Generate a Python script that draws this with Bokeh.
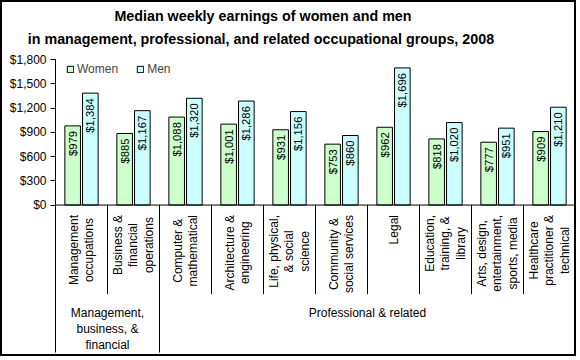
import math
from bokeh.plotting import figure
from bokeh.models import (Range1d, FixedTicker, NumeralTickFormatter, Legend,
                          LegendItem, Title, ColumnDataSource)
from bokeh.core.properties import value
from bokeh.transform import dodge
from bokeh.embed import file_html
from bokeh.resources import INLINE

# ---------------- data ----------------
categories = [
    "Management\noccupations",
    "Business &\nfinancial\noperations",
    "Computer &\nmathematical",
    "Architecture &\nengineering",
    "Life, physical,\n& social\nscience",
    "Community &\nsocial services",
    "Legal",
    "Education,\ntraining, &\nlibrary",
    "Arts, design,\nentertainment,\nsports, media",
    "Healthcare\npractitioner &\ntechnical",
]
groups = ["Management,\nbusiness, &\nfinancial", "Professional & related"]
group_sizes = [2, 8]
series_names = ["Women", "Men"]
women = [979, 885, 1088, 1001, 931, 753, 962, 818, 777, 909]
men = [1384, 1167, 1320, 1286, 1156, 860, 1696, 1020, 951, 1210]
y_ticks = [0, 300, 600, 900, 1200, 1500, 1800]
title_line1 = "Median weekly earnings of women and men"
title_line2 = "in management, professional, and related occupational groups, 2008"

# ---------------- layout helpers ----------------
FONT = "Liberation Sans"
W, H = 576, 356          # + 2px border on each side = 580 x 360


def fx(rx):
    return rx - 2


def fy(ry):
    return ry - 2


FL = round(fx(55))
FT = round(fy(56))
cat_px = 52
x_end = (W - FL) / cat_px
y_end = y_ticks[-1]
px_per_unit = (fy(203) - FT) / y_end
y_start = y_end - (H - FT) / px_per_unit


def yd(ry):
    return y_end - (fy(ry) - FT) / px_per_unit


REG = {' ': .278, '&': .667, ',': .278, '.': .278, '$': .556,
       'a': .556, 'b': .556, 'c': .5, 'd': .556, 'e': .556, 'f': .278, 'g': .556,
       'h': .556, 'i': .222, 'j': .222, 'k': .5, 'l': .222, 'm': .833, 'n': .556,
       'o': .556, 'p': .556, 'q': .556, 'r': .333, 's': .5, 't': .278, 'u': .556,
       'v': .5, 'w': .722, 'x': .5, 'y': .5, 'z': .5,
       'A': .667, 'B': .667, 'C': .722, 'E': .667, 'H': .722, 'L': .556, 'M': .833}
BOLD = {' ': .278, ',': .278, 'a': .556, 'b': .611, 'c': .556, 'd': .611, 'e': .556,
        'f': .333, 'g': .611, 'h': .611, 'i': .278, 'k': .556, 'l': .278, 'm': .889,
        'n': .611, 'o': .611, 'p': .611, 'r': .389, 's': .556, 't': .333, 'u': .611,
        'w': .778, 'y': .556, 'M': .833}


def text_w(s, size, table):
    return sum(table.get(c, .556) for c in s) * size


n = len(categories)

p = figure(width=W, height=H, x_range=Range1d(0, x_end), y_range=Range1d(y_start, y_end),
           output_backend="svg", toolbar_location=None, x_axis_location=None,
           min_border_left=FL, min_border_right=0, min_border_top=FT, min_border_bottom=0,
           outline_line_color=None, background_fill_color="white", border_fill_color="white")
p.styles = {"border": "2px solid black"}
p.xgrid.visible = False
p.ygrid.visible = False

# y axis
ax = p.yaxis[0]
ax.ticker = FixedTicker(ticks=y_ticks)
ax.formatter = NumeralTickFormatter(format="$0,0")
ax.bounds = (yd(352), y_end)
ax.major_tick_out = 5
ax.major_tick_in = 0
ax.minor_tick_line_color = None
ax.axis_line_color = "black"
ax.major_tick_line_color = "black"
ax.major_label_text_font = FONT
ax.major_label_text_font_size = "12px"
ax.major_label_text_color = "black"
ax.major_label_standoff = 4

# bars
src = ColumnDataSource(dict(
    x=[i + 0.5 for i in range(n)], women=women, men=men,
    wl=[f"${v:,}" for v in women], ml=[f"${v:,}" for v in men]))
BW, OFF = 0.3, 0.17
rw = p.vbar(x=dodge('x', -OFF), top='women', bottom=0, width=BW, source=src,
            fill_color="#CCFFCC", line_color="black", line_width=1)
rm = p.vbar(x=dodge('x', OFF), top='men', bottom=0, width=BW, source=src,
            fill_color="#CCFFFF", line_color="black", line_width=1)

for xo, top, lab in ((-OFF, 'women', 'wl'), (OFF, 'men', 'ml')):
    p.text(x=dodge('x', xo), y=top, text=lab, source=src, angle=math.pi / 2,
           text_align="right", text_baseline="middle", y_offset=5,
           text_font=value(FONT), text_font_size="11.3px", text_color="black")

# category axis line and separators
bounds = [0]
for g in group_sizes:
    bounds.append(bounds[-1] + g)
p.segment(x0=[0], y0=[0], x1=[n], y1=[0], line_color="black", line_width=1)
sep_x = list(range(1, n + 1))
sep_y = [yd(352) if i in bounds else yd(293) for i in sep_x]
p.segment(x0=sep_x, y0=[0] * len(sep_x), x1=sep_x, y1=sep_y, line_color="black", line_width=1)

# category labels (rotated)
CAT_FS = 12
LH = 1.14
gap = 10
cat_src = ColumnDataSource(dict(
    x=[i + 0.5 for i in range(n)], y=[0] * n, text=categories,
    yoff=[gap + max(text_w(l, CAT_FS, REG) for l in c.split("\n")) / 2 for c in categories]))
p.text(x='x', y='y', text='text', y_offset='yoff', source=cat_src, angle=math.pi / 2,
       text_align="center", text_baseline="middle", text_line_height=LH,
       text_font=value(FONT), text_font_size=f"{CAT_FS}px", text_color="black")

# group labels
gx = [(bounds[i] + bounds[i + 1]) / 2 for i in range(len(groups))]
p.text(x=gx, y=[yd(305)] * len(groups), text=groups, text_align="center",
       text_baseline="top", text_line_height=LH, text_font=value(FONT),
       text_font_size=f"{CAT_FS}px", text_color="black")

# legend
legend = Legend(items=[LegendItem(label=series_names[0], renderers=[rw]),
                       LegendItem(label=series_names[1], renderers=[rm])],
                orientation="horizontal", location=(11, (H - FT) - 20), margin=0, padding=0,
                border_line_color=None, background_fill_alpha=0,
                glyph_width=8, glyph_height=8, label_standoff=3, spacing=18,
                label_height=8, label_text_font=FONT, label_text_font_size="12px")
p.add_layout(legend)

# titles (spacer first, then line 2, then line 1 on top)
p.add_layout(Title(text=" ", text_font_size="7px", standoff=2), "above")
TFS = 14.3
for line, rc, so in ((title_line2, 260.5, 4), (title_line1, 262.5, 6)):
    w = text_w(line, TFS, BOLD)
    t = Title(text=line, align="left", offset=fx(rc) - w / 2 - FL,
              text_font=FONT, text_font_size=f"{TFS}px", text_font_style="bold",
              text_color="black", standoff=so)
    p.add_layout(t, "above")

open("out.html", "w").write(file_html(p, INLINE))
